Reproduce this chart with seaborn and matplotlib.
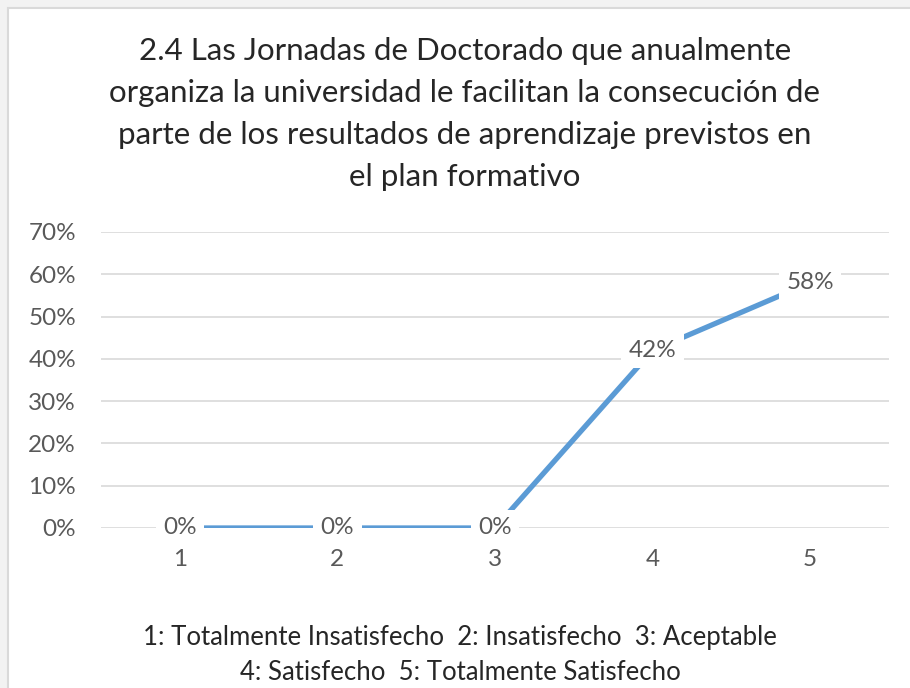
import matplotlib
matplotlib.use("Agg")
import matplotlib.pyplot as plt
import matplotlib.patches as patches
from matplotlib.ticker import FuncFormatter
import seaborn as sns
import pandas as pd

title = ("2.4 Las Jornadas de Doctorado que anualmente\n"
         "organiza la universidad le facilitan la consecución de\n"
         "parte de los resultados de aprendizaje previstos en\n"
         "el plan formativo")
categories = [1, 2, 3, 4, 5]
percent = [0, 0, 0, 42, 58]
caption = ("1: Totalmente Insatisfecho  2: Insatisfecho  3: Aceptable\n"
           "4: Satisfecho  5: Totalmente Satisfecho")

sns.set_theme(style="white")
plt.rcParams['font.family'] = ['Lato', 'DejaVu Sans']

df = pd.DataFrame({"cat": categories, "pct": percent})

fig = plt.figure(figsize=(9.1, 6.88), dpi=100, facecolor="#f2f2f2")
W, H = 910, 688
# chart frame
fig.patches.append(patches.Rectangle((8 / W, -0.02), 1.0, 1 - 8 / H + 0.02,
                                     transform=fig.transFigure, facecolor="white",
                                     edgecolor="#d9d9d9", linewidth=1.5, zorder=-1))

ax = fig.add_axes([101 / W, 1 - 528 / H, (889 - 101) / W, (528 - 232) / H])
ax.set_facecolor("none")

sns.lineplot(data=df, x="cat", y="pct", ax=ax, color="#5b9bd5", linewidth=3.8, zorder=3)

ax.set_xlim(0.5, 5.5)
ax.set_ylim(0, 70)
ax.set_yticks(range(0, 71, 10))
ax.set_xticks(categories)
ax.yaxis.set_major_formatter(FuncFormatter(lambda v, p: f"{v:.0f}%"))
ax.grid(axis="y", color="#d9d9d9", linewidth=1.2, zorder=0)
ax.set_axisbelow(True)
for s in ax.spines.values():
    s.set_visible(False)
ax.tick_params(axis="both", length=0, labelsize=17.5, colors="#595959")
ax.tick_params(axis="y", pad=18)
ax.tick_params(axis="x", pad=15)
ax.set_xlabel("")
ax.set_ylabel("")

for c, v in zip(categories, percent):
    ax.text(c, v, f"{v}%", ha="center", va="center", fontsize=17.5, color="#595959",
            zorder=5, bbox=dict(boxstyle="square,pad=0.3", facecolor="white", edgecolor="none"))

fig.text(465 / W, 1 - 114 / H, title, ha="center", va="center", fontsize=22.5,
         color="#262626", linespacing=1.62)
fig.text(460 / W, 1 - 655 / H, caption, ha="center", va="center", fontsize=18.5,
         color="#262626", linespacing=1.45)

fig.savefig("out.png", dpi=100, facecolor=fig.get_facecolor())
